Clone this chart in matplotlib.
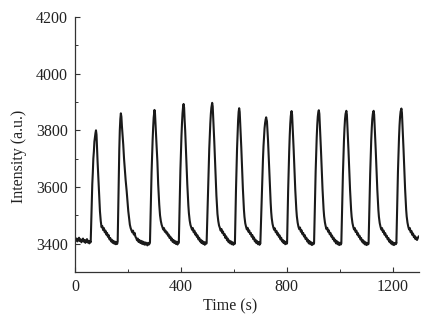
import matplotlib
matplotlib.use('Agg')
import matplotlib.pyplot as plt
from matplotlib.ticker import MultipleLocator

plt.rcParams['font.family'] = ['Liberation Serif', 'DejaVu Serif']

# trace, (time in s, intensity in a.u.), one list per pulse
lead = [(0, 3420), (3, 3411), (6, 3418), (9, 3408), (12, 3416), (15, 3421), (18, 3409),
        (21, 3415), (24, 3405), (27, 3413), (30, 3418), (33, 3407), (36, 3413), (39, 3403),
        (42, 3411), (45, 3416), (48, 3404), (51, 3410), (54, 3401), (57, 3408)]

pulse_01 = [(59, 3405), (61, 3470), (63, 3545), (65, 3610), (67, 3650), (69, 3700), (71, 3725),
            (73, 3760), (75, 3775), (77, 3790), (79, 3800), (81, 3785), (83, 3735), (85, 3690),
            (88, 3633), (91, 3570), (94, 3514), (97, 3480), (100, 3458), (103, 3462), (106, 3448),
            (109, 3455), (112, 3440), (115, 3446), (118, 3432), (121, 3438), (124, 3424),
            (127, 3430), (130, 3415), (133, 3420), (136, 3408), (139, 3414), (142, 3403),
            (145, 3410), (148, 3400), (151, 3407), (154, 3398), (157, 3405), (159, 3399)]

pulse_02 = [(161, 3408), (163, 3520), (165, 3640), (167, 3730), (169, 3800), (171, 3840),
            (173, 3860), (175, 3848), (177, 3815), (180, 3775), (182, 3750), (185, 3700),
            (188, 3660), (191, 3625), (195, 3585), (198, 3550), (201, 3515), (204, 3490),
            (207, 3467), (210, 3455), (213, 3448), (216, 3440), (219, 3446), (222, 3432),
            (225, 3438), (228, 3425), (231, 3420), (234, 3412), (237, 3418), (240, 3406),
            (243, 3413), (246, 3403), (249, 3410), (252, 3400), (255, 3408), (258, 3398),
            (261, 3405), (264, 3396), (267, 3404), (270, 3400), (273, 3394), (276, 3403),
            (279, 3397), (282, 3401)]

pulse_03 = [(283, 3405), (285, 3490), (287, 3575), (289, 3650), (291, 3710), (293, 3765),
            (295, 3810), (297, 3845), (299, 3865), (300, 3872), (302, 3860), (304, 3820),
            (306, 3780), (308, 3745), (311, 3690), (314, 3610), (318, 3538), (321, 3500),
            (324, 3480), (327, 3467), (330, 3458), (333, 3450), (336, 3455), (339, 3442),
            (342, 3446), (345, 3436), (348, 3440), (351, 3428), (354, 3432), (357, 3420),
            (360, 3425), (363, 3412), (366, 3418), (369, 3406), (372, 3413), (375, 3402),
            (378, 3409), (381, 3399), (384, 3407), (387, 3397), (390, 3404)]

pulse_04 = [(392, 3403), (394, 3490), (396, 3580), (398, 3660), (400, 3725), (402, 3780),
            (404, 3825), (406, 3860), (408, 3882), (410, 3893), (412, 3880), (414, 3835),
            (416, 3800), (418, 3755), (420, 3705), (422, 3655), (424, 3610), (426, 3570),
            (428, 3535), (430, 3508), (433, 3482), (436, 3466), (439, 3458), (442, 3449),
            (445, 3455), (448, 3440), (451, 3446), (454, 3432), (457, 3437), (460, 3424),
            (463, 3429), (466, 3415), (469, 3421), (472, 3408), (475, 3414), (478, 3402),
            (481, 3410), (484, 3399), (487, 3406), (490, 3396), (493, 3404), (496, 3400)]

pulse_05 = [(497, 3402), (499, 3470), (501, 3545), (503, 3615), (505, 3680), (507, 3735),
            (509, 3785), (511, 3825), (513, 3858), (515, 3880), (517, 3892), (518, 3897),
            (520, 3885), (522, 3845), (524, 3805), (526, 3760), (528, 3710), (530, 3660),
            (532, 3612), (534, 3570), (536, 3535), (538, 3505), (541, 3480), (544, 3464),
            (547, 3456), (550, 3446), (553, 3452), (556, 3438), (559, 3443), (562, 3430),
            (565, 3434), (568, 3420), (571, 3426), (574, 3412), (577, 3418), (580, 3405),
            (583, 3411), (586, 3401), (589, 3408), (592, 3398), (595, 3405), (598, 3396),
            (601, 3403), (603, 3399)]

pulse_06 = [(604, 3404), (606, 3500), (608, 3590), (610, 3665), (612, 3735), (614, 3790),
            (616, 3835), (618, 3865), (620, 3878), (622, 3865), (624, 3825), (626, 3785),
            (628, 3740), (630, 3690), (632, 3640), (634, 3595), (636, 3555), (638, 3520),
            (640, 3495), (643, 3472), (646, 3460), (649, 3450), (652, 3456), (655, 3442),
            (658, 3447), (661, 3434), (664, 3438), (667, 3425), (670, 3430), (673, 3416),
            (676, 3422), (679, 3408), (682, 3414), (685, 3402), (688, 3409), (691, 3398),
            (694, 3406), (697, 3396), (699, 3402)]

pulse_07 = [(700, 3400), (702, 3460), (704, 3525), (706, 3590), (708, 3650), (710, 3700),
            (712, 3745), (714, 3780), (716, 3808), (718, 3826), (720, 3838), (722, 3846),
            (723, 3840), (725, 3832), (727, 3800), (729, 3765), (731, 3720), (733, 3675),
            (735, 3625), (737, 3580), (739, 3545), (741, 3512), (743, 3490), (746, 3470),
            (749, 3458), (752, 3449), (755, 3454), (758, 3440), (761, 3445), (764, 3432),
            (767, 3437), (770, 3424), (773, 3429), (776, 3415), (779, 3421), (782, 3408),
            (785, 3413), (788, 3402), (791, 3409), (794, 3398), (797, 3405), (800, 3400)]

pulse_08 = [(801, 3402), (803, 3495), (805, 3585), (807, 3660), (809, 3725), (811, 3780),
            (813, 3822), (815, 3850), (817, 3864), (818, 3868), (820, 3855), (822, 3815),
            (824, 3775), (826, 3730), (828, 3680), (830, 3632), (832, 3590), (834, 3552),
            (836, 3520), (838, 3496), (841, 3474), (844, 3460), (847, 3451), (850, 3457),
            (853, 3442), (856, 3447), (859, 3433), (862, 3438), (865, 3425), (868, 3430),
            (871, 3416), (874, 3421), (877, 3408), (880, 3414), (883, 3401), (886, 3409),
            (889, 3398), (892, 3405), (895, 3395), (898, 3403), (901, 3398)]

pulse_09 = [(903, 3402), (905, 3490), (907, 3580), (909, 3655), (911, 3720), (913, 3775),
            (915, 3818), (917, 3848), (919, 3864), (921, 3871), (923, 3858), (925, 3818),
            (927, 3778), (929, 3732), (931, 3683), (933, 3635), (935, 3592), (937, 3553),
            (939, 3521), (941, 3497), (944, 3475), (947, 3461), (950, 3451), (953, 3456),
            (956, 3442), (959, 3447), (962, 3433), (965, 3438), (968, 3425), (971, 3429),
            (974, 3416), (977, 3421), (980, 3408), (983, 3414), (986, 3401), (989, 3409),
            (992, 3398), (995, 3405), (998, 3395), (1001, 3403), (1004, 3397)]

pulse_10 = [(1006, 3401), (1008, 3485), (1010, 3570), (1012, 3645), (1014, 3710), (1016, 3765),
            (1018, 3808), (1020, 3840), (1022, 3858), (1024, 3866), (1025, 3869), (1027, 3856),
            (1029, 3816), (1031, 3776), (1033, 3730), (1035, 3681), (1037, 3633), (1039, 3590),
            (1041, 3551), (1043, 3519), (1045, 3495), (1048, 3473), (1051, 3460), (1054, 3450),
            (1057, 3455), (1060, 3441), (1063, 3446), (1066, 3432), (1069, 3437), (1072, 3424),
            (1075, 3428), (1078, 3415), (1081, 3420), (1084, 3407), (1087, 3413), (1090, 3401),
            (1093, 3408), (1096, 3397), (1099, 3404), (1102, 3395), (1105, 3402), (1108, 3398)]

pulse_11 = [(1109, 3402), (1111, 3485), (1113, 3570), (1115, 3645), (1117, 3710), (1119, 3765),
            (1121, 3808), (1123, 3840), (1125, 3858), (1127, 3866), (1128, 3869), (1130, 3856),
            (1132, 3816), (1134, 3776), (1136, 3730), (1138, 3681), (1140, 3633), (1142, 3590),
            (1144, 3551), (1146, 3519), (1148, 3495), (1151, 3473), (1154, 3460), (1157, 3450),
            (1160, 3455), (1163, 3441), (1166, 3446), (1169, 3432), (1172, 3437), (1175, 3424),
            (1178, 3428), (1181, 3415), (1184, 3420), (1187, 3407), (1190, 3413), (1193, 3401),
            (1196, 3408), (1199, 3397), (1202, 3404), (1205, 3395), (1208, 3402), (1211, 3398),
            (1213, 3403)]

pulse_12 = [(1214, 3401), (1216, 3490), (1218, 3578), (1220, 3655), (1222, 3720), (1224, 3775),
            (1226, 3818), (1228, 3848), (1230, 3866), (1232, 3874), (1233, 3877), (1235, 3862),
            (1237, 3822), (1239, 3780), (1241, 3734), (1243, 3685), (1245, 3636), (1247, 3592),
            (1249, 3553), (1251, 3520), (1253, 3496), (1256, 3474), (1259, 3460), (1262, 3450),
            (1265, 3455), (1268, 3440), (1271, 3445), (1274, 3431), (1277, 3436), (1280, 3423),
            (1283, 3428), (1286, 3416), (1289, 3422), (1292, 3413), (1295, 3420), (1298, 3425)]

pulses = [lead, pulse_01, pulse_02, pulse_03, pulse_04, pulse_05, pulse_06,
          pulse_07, pulse_08, pulse_09, pulse_10, pulse_11, pulse_12]
time = [p[0] for seg in pulses for p in seg]
intensity = [p[1] for seg in pulses for p in seg]

fig = plt.figure(figsize=(4.29, 3.24), dpi=100)
ax = fig.add_axes([0.175, 0.1605, 0.802, 0.787])

ax.plot(time, intensity, c='#1a1a1a', lw=1.5)

ax.set_xlim(0, 1300)
ax.set_ylim(3300, 4200)
ax.xaxis.set_major_locator(MultipleLocator(400))
ax.xaxis.set_minor_locator(MultipleLocator(200))
ax.yaxis.set_major_locator(MultipleLocator(200))
ax.yaxis.set_minor_locator(MultipleLocator(100))

for s in ['top', 'right']:
    ax.spines[s].set_visible(False)
for s in ['left', 'bottom']:
    ax.spines[s].set_color('#333333')
    ax.spines[s].set_linewidth(0.9)

ax.tick_params(which='both', direction='in', colors='#333333', labelcolor='#222222', labelsize=11.5)
ax.tick_params(which='major', length=3.5, width=0.8)
ax.tick_params(which='minor', length=2, width=0.7)
ax.tick_params(axis='y', pad=5)
ax.tick_params(axis='x', pad=5)

ax.set_xlabel('Time (s)', fontsize=11.5, color='#222222')
ax.set_ylabel('Intensity (a.u.)', fontsize=11.5, color='#222222')
ax.xaxis.set_label_coords(0.45, -0.105)
ax.yaxis.set_label_coords(-0.14, 0.455)

fig.savefig('out.png', dpi=100)
